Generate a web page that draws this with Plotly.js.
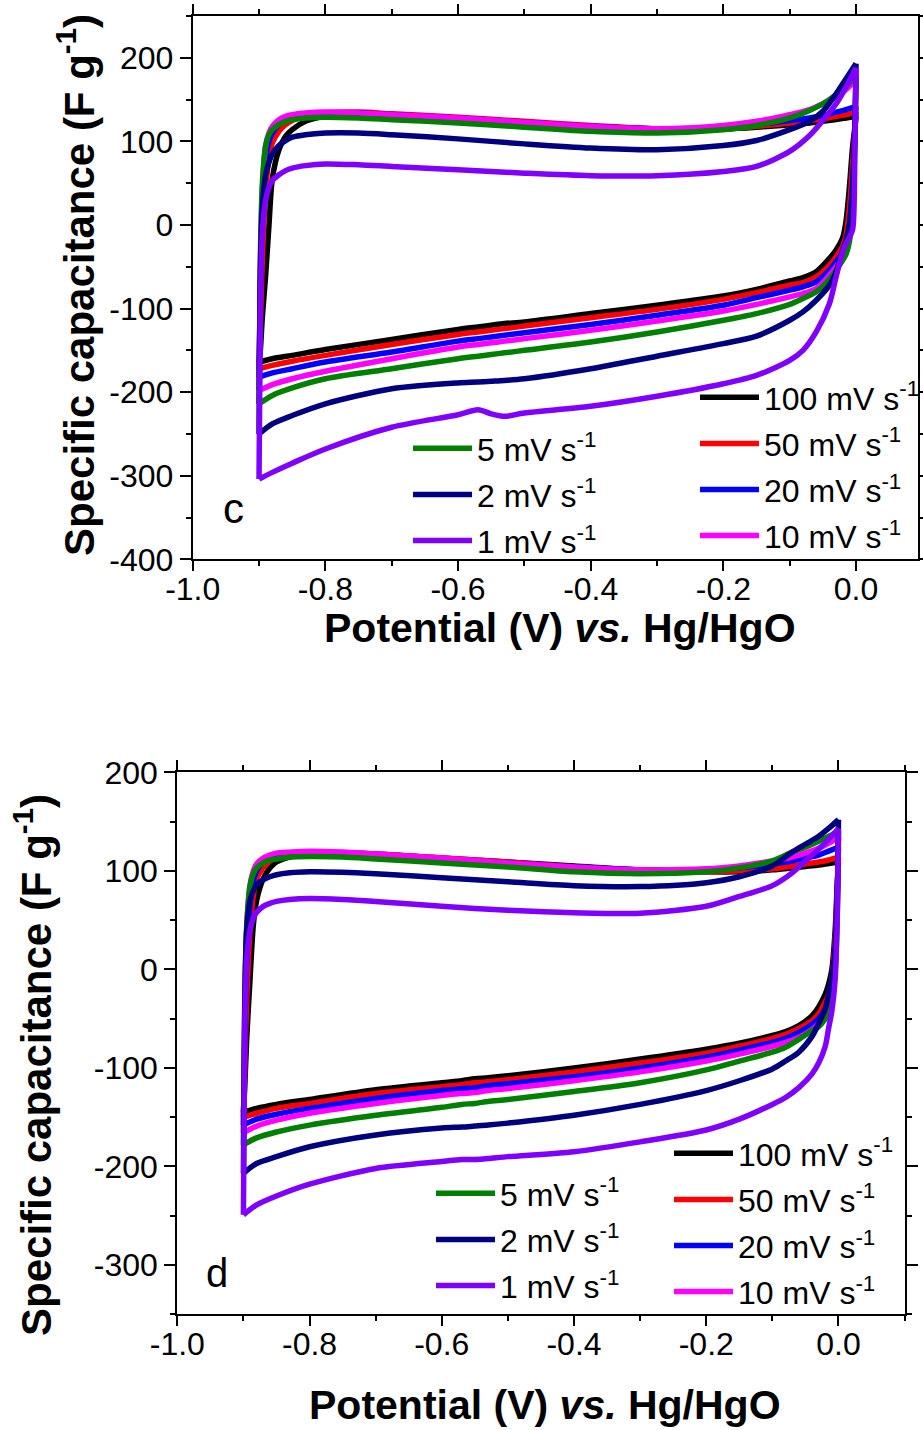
<!DOCTYPE html>
<html>
<head>
<meta charset="utf-8">
<script src="https://cdn.plot.ly/plotly-3.0.1.min.js"></script>
<style>html,body{margin:0;padding:0;background:#fff;}#chart{width:923px;height:1430px;}</style>
</head>
<body>
<div id="chart"></div>
<script>
// ---------------- data ----------------
// potential grids (V vs. Hg/HgO): anodic sweep (up) and cathodic sweep (down)
const potUp   = [-0.9, -0.898, -0.895, -0.89, -0.885, -0.88, -0.87, -0.86, -0.85, -0.83, -0.8, -0.75, -0.7, -0.6, -0.5, -0.4, -0.3, -0.2, -0.15, -0.1, -0.07, -0.05, -0.03, -0.015, 0.0];
const potDown = [0.0, -0.002, -0.005, -0.01, -0.015, -0.02, -0.03, -0.04, -0.06, -0.08, -0.1, -0.15, -0.2, -0.3, -0.4, -0.5, -0.53, -0.55, -0.57, -0.6, -0.7, -0.8, -0.85, -0.88, -0.9];

const scanRates = ['100', '50', '20', '10', '5', '2', '1'];

// panel c: specific capacitance (F g-1)
const cUp100 = [-164, -150, -110, -60, 0, 55, 90, 106, 114, 124, 130, 133, 132, 128, 123, 118, 115, 115, 117, 120, 122, 124, 126, 128, 130];
const cUp50  = [-172, -120, -40, 40, 80, 98, 112, 120, 125, 130, 134, 135, 133, 129, 124, 119, 115, 115, 118, 122, 125, 127, 130, 132, 135];
const cUp20  = [-182, -80, 20, 80, 100, 110, 120, 126, 129, 132, 134, 134, 132, 128, 123, 118, 115, 117, 120, 125, 128, 131, 135, 138, 142];
const cUp10  = [-198, -50, 40, 95, 110, 118, 126, 130, 132, 134, 135, 134, 132, 128, 123, 118, 115, 119, 124, 132, 138, 145, 153, 162, 174];
const cUp5   = [-214, -40, 50, 95, 108, 114, 120, 124, 126, 128, 129, 128, 126, 122, 117, 112, 110, 114, 119, 128, 137, 145, 156, 166, 179];
const cUp2   = [-250, -60, 20, 60, 75, 85, 95, 101, 105, 108, 110, 110, 108, 103, 97, 92, 90, 95, 101, 114, 124, 136, 157, 175, 193];
const cUp1   = [-304, -100, -10, 30, 45, 53, 60, 65, 68, 71, 73, 72, 70, 66, 62, 59, 59, 64, 70, 88, 107, 125, 145, 165, 188];

const cDown100 = [130, 115, 95, 45, 5, -15, -30, -40, -56, -63, -67, -77, -85, -96, -106, -116, -118, -120, -122, -125, -137, -149, -156, -160, -164];
const cDown50  = [135, 110, 75, 20, -12, -25, -38, -48, -62, -69, -72, -81, -89, -101, -111, -121, -124, -126, -128, -131, -143, -156, -163, -168, -172];
const cDown20  = [142, 100, 50, 0, -22, -33, -44, -54, -68, -74, -78, -87, -96, -108, -119, -129, -132, -134, -136, -139, -152, -164, -172, -177, -182];
const cDown10  = [174, 100, 40, -8, -30, -40, -50, -60, -76, -82, -86, -95, -103, -115, -126, -136, -139, -141, -143, -146, -160, -175, -184, -191, -198];
const cDown5   = [179, 90, 20, -20, -35, -42, -54, -65, -80, -88, -95, -106, -114, -128, -140, -150, -153, -155, -157, -160, -172, -184, -195, -204, -214];
const cDown2   = [193, 110, 50, 0, -18, -30, -56, -72, -90, -104, -114, -133, -142, -157, -172, -184, -186, -187, -188, -189, -196, -214, -228, -238, -250];
const cDown1   = [188, 70, -5, -15, -22, -32, -62, -94, -128, -150, -162, -180, -190, -205, -217, -225, -229, -226, -221, -227, -242, -268, -285, -296, -304];

// panel d: specific capacitance (F g-1)
const dUp100 = [-145, -120, -70, -10, 45, 70, 92, 103, 109, 114, 117, 118, 117, 113, 109, 105, 101, 99, 99, 101, 103, 104.5, 106, 107.5, 109];
const dUp50  = [-150, -100, -30, 40, 75, 92, 103, 110, 113, 116, 118, 118, 117, 113, 109, 104, 100, 99, 100, 102, 105, 107, 109, 111, 114];
const dUp20  = [-158, -70, 10, 65, 90, 100, 109, 113, 115, 117, 118, 118, 116, 112, 108, 104, 101, 101, 103, 107, 110, 113, 116, 120, 124];
const dUp10  = [-166, -40, 40, 85, 100, 107, 113, 116, 118, 119, 120, 119, 117, 113, 108, 104, 101, 102, 105, 110, 114, 118, 123, 128, 134];
const dUp5   = [-178, -30, 45, 85, 97, 103, 108, 111, 112, 114, 114.5, 114, 112, 108, 104, 99, 97, 99, 103, 110, 119, 124, 130, 135, 140];
const dUp2   = [-207, -40, 40, 70, 80, 86, 91, 94, 96, 98, 99, 98.5, 97, 93, 89, 85, 84, 88, 94, 105, 119, 127, 135, 143, 152];
const dUp1   = [-249, -60, 10, 40, 52, 58, 64, 67, 69, 71, 72, 71, 69, 64, 60, 57.5, 57, 64, 74, 85, 98, 110, 122, 132, 143];

const dDown100 = [109, 85, 40, 0, -15, -25, -38, -47, -57, -63, -67, -75, -81, -91, -100, -108, -110, -111, -113, -115, -122, -132, -137, -141, -145];
const dDown50  = [114, 80, 30, -10, -25, -33, -45, -52, -60, -66, -70, -78, -85, -95, -104, -112, -114, -115, -117, -119, -126, -136, -141, -146, -150];
const dDown20  = [124, 70, 20, -18, -32, -40, -50, -56, -64, -70, -74, -82, -89, -100, -109, -116, -118, -120, -121, -123, -131, -141, -147, -152, -158];
const dDown10  = [134, 60, 10, -25, -38, -46, -55, -61, -69, -74, -78, -86, -93, -104, -113, -121, -123, -125, -126, -128, -136, -146, -153, -159, -166];
const dDown5   = [140, 50, 0, -30, -43, -50, -58, -62, -71, -79, -84, -93, -102, -115, -124, -132, -134, -136, -137, -140, -148, -158, -165, -171, -178];
const dDown2   = [152, 70, 20, -10, -25, -40, -55, -68, -84, -93, -101, -113, -123, -137, -148, -156, -158, -159, -160, -161, -168, -180, -190, -197, -207];
const dDown1   = [143, 50, -10, -42, -60, -78, -95, -106, -120, -130, -137, -152, -163, -175, -185, -190, -192, -193, -193, -195, -202, -218, -230, -239, -249];

// tick labels
const xTickVals = [-1.0, -0.8, -0.6, -0.4, -0.2, 0.0];
const xTickText = ['-1.0', '-0.8', '-0.6', '-0.4', '-0.2', '0.0'];
const cYTickVals = [-400, -300, -200, -100, 0, 100, 200];
const cYTickText = ['-400', '-300', '-200', '-100', '0', '100', '200'];
const dYTickVals = [-300, -200, -100, 0, 100, 200];
const dYTickText = ['-300', '-200', '-100', '0', '100', '200'];

// ---------------- build ----------------
const W = 923, H = 1430;
const FONT = 'Liberation Sans, Arial, Helvetica, sans-serif';
const colors = ['#000000', '#ff0000', '#0000ff', '#ff00ff', '#008000', '#000080', '#8000ff'];
const cUps = [cUp100, cUp50, cUp20, cUp10, cUp5, cUp2, cUp1];
const cDowns = [cDown100, cDown50, cDown20, cDown10, cDown5, cDown2, cDown1];
const dUps = [dUp100, dUp50, dUp20, dUp10, dUp5, dUp2, dUp1];
const dDowns = [dDown100, dDown50, dDown20, dDown10, dDown5, dDown2, dDown1];

const traces = [];
function addPanel(tag, ups, downs, xa, ya, legR, legL) {
  scanRates.forEach((r, i) => {
    const group = tag + r;
    const line = {color: colors[i], width: 5.5, shape: 'spline', smoothing: 0.8};
    traces.push({
      type: 'scatter', mode: 'lines', x: potUp, y: ups[i], xaxis: xa, yaxis: ya,
      name: r + ' mV s<sup>-1</sup>', legendgroup: group,
      legend: i < 4 ? legR : legL, line: line, hoverinfo: 'skip'
    });
    traces.push({
      type: 'scatter', mode: 'lines', x: potDown, y: downs[i], xaxis: xa, yaxis: ya,
      name: r + ' mV s<sup>-1</sup>', legendgroup: group, showlegend: false,
      legend: i < 4 ? legR : legL, line: line, hoverinfo: 'skip'
    });
  });
}
addPanel('c', cUps, cDowns, 'x', 'y', 'legend', 'legend2');
addPanel('d', dUps, dDowns, 'x2', 'y2', 'legend3', 'legend4');

function px(x) { return x / W; }
function py(y) { return 1 - y / H; }

const tickFont = {family: FONT, size: 32, color: '#000'};
function xAxis(domain, range, anchor) {
  return {
    domain: domain, range: range, anchor: anchor,
    tickmode: 'array', tickvals: xTickVals, ticktext: xTickText,
    ticks: 'outside', ticklen: 10, tickwidth: 2, tickcolor: '#000',
    ticklabelstandoff: -10,
    minor: {dtick: 0.1, tick0: 0, ticks: 'outside', ticklen: 5, tickwidth: 2, tickcolor: '#000'},
    showline: true, linewidth: 2, linecolor: '#000', mirror: 'ticks',
    showgrid: false, zeroline: false, tickfont: tickFont
  };
}
function yAxis(domain, range, anchor, vals, text) {
  return {
    domain: domain, range: range, anchor: anchor,
    tickmode: 'array', tickvals: vals, ticktext: text,
    ticks: 'outside', ticklen: 11, tickwidth: 2, tickcolor: '#000',
    minor: {dtick: 50, tick0: 0, ticks: 'outside', ticklen: 5, tickwidth: 2, tickcolor: '#000'},
    showline: true, linewidth: 2, linecolor: '#000', mirror: 'ticks',
    showgrid: false, zeroline: false, tickfont: tickFont
  };
}
function legendAt(x, y) {
  return {
    x: px(x), y: py(y), xanchor: 'left', yanchor: 'top',
    bgcolor: 'rgba(0,0,0,0)', borderwidth: 0,
    font: {family: FONT, size: 32, color: '#000'},
    traceorder: 'grouped', tracegroupgap: 1.5,
    itemwidth: 59, itemclick: false, itemdoubleclick: false
  };
}

const titleFont = {family: FONT, size: 41, color: '#000'};
const yTitleFont = {family: FONT, size: 42, color: '#000'};
const layout = {
  width: W, height: H, autosize: false,
  margin: {l: 0, r: 0, t: 0, b: 0, pad: 0, autoexpand: false},
  paper_bgcolor: '#fff', plot_bgcolor: '#fff',
  font: {family: FONT, color: '#000'},
  showlegend: true,
  xaxis: xAxis([px(192.7), px(917.7)], [-1.0, 0.093], 'y'),
  yaxis: yAxis([py(559.3), py(16)], [-400, 250], 'x', cYTickVals, cYTickText),
  xaxis2: xAxis([px(177.3), px(904.6)], [-1.0, 0.1], 'y2'),
  yaxis2: yAxis([py(1314.3), py(772.3)], [-350, 200], 'x2', dYTickVals, dYTickText),
  legend: legendAt(695, 370),
  legend2: legendAt(408, 421),
  legend3: legendAt(669, 1126),
  legend4: legendAt(431, 1166),
  annotations: [
    {xref: 'paper', yref: 'paper', x: px(560), y: py(628), xanchor: 'center', yanchor: 'middle', showarrow: false,
     text: '<b>Potential (V) <i>vs.</i> Hg/HgO</b>', font: titleFont},
    {xref: 'paper', yref: 'paper', x: px(545), y: py(1405), xanchor: 'center', yanchor: 'middle', showarrow: false,
     text: '<b>Potential (V) <i>vs.</i> Hg/HgO</b>', font: titleFont},
    {xref: 'paper', yref: 'paper', x: px(76), y: py(285), xanchor: 'center', yanchor: 'middle', showarrow: false, textangle: -90,
     text: '<b>Specific capacitance (F g<sup>-1</sup>)</b>', font: yTitleFont},
    {xref: 'paper', yref: 'paper', x: px(33), y: py(1065), xanchor: 'center', yanchor: 'middle', showarrow: false, textangle: -90,
     text: '<b>Specific capacitance (F g<sup>-1</sup>)</b>', font: yTitleFont},
    {xref: 'paper', yref: 'paper', x: px(233), y: py(508), xanchor: 'center', yanchor: 'middle', showarrow: false,
     text: 'c', font: {family: FONT, size: 42, color: '#000'}},
    {xref: 'paper', yref: 'paper', x: px(217), y: py(1273), xanchor: 'center', yanchor: 'middle', showarrow: false,
     text: 'd', font: {family: FONT, size: 40, color: '#000'}}
  ]
};

Plotly.newPlot('chart', traces, layout, {displayModeBar: false, responsive: false});
</script>
</body>
</html>
